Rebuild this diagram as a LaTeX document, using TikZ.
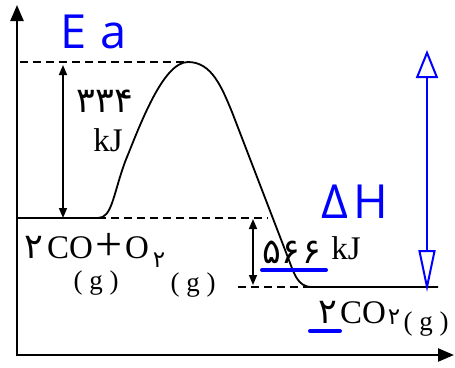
\documentclass[tikz,border=0pt]{standalone}
\usepackage{fontspec}
\setmainfont{Liberation Serif}
\setsansfont{Open Sans}
\newfontfamily\fa[Script=Arabic]{DejaVu Sans}
\usetikzlibrary{arrows.meta}

\tikzset{
  axis/.style={line width=2.4pt, {Triangle[length=16pt,width=13pt]}-{Triangle[length=16pt,width=13pt]}},
  level/.style={line width=1.8pt},
  guide/.style={line width=1.5pt, dash pattern=on 8pt off 5pt},
  gap/.style={line width=1.6pt, {Triangle[length=10pt,width=8pt]}-{Triangle[length=10pt,width=8pt]}},
  lbl/.style={inner sep=0pt, font=\fontsize{33}{35}\selectfont},
  num/.style={inner sep=0pt, font=\fa\fontsize{35}{37}\selectfont},
  sublbl/.style={inner sep=0pt, font=\fontsize{27}{29}\selectfont},
  subnum/.style={inner sep=0pt, font=\fa\fontsize{23}{25}\selectfont},
  pen/.style={draw=blue, line width=2pt, line cap=round, line join=round},
  pentext/.style={inner sep=0pt, text=blue, font=\sffamily\fontsize{47}{50}\selectfont},
}

\begin{document}
\begin{tikzpicture}[x=1pt,y=-1pt]
\useasboundingbox (0,0) rectangle (455,367);

% axes
\coordinate (ytop) at (17,5);
\coordinate (O) at (17,355);
\coordinate (xend) at (454,355);
\draw[axis] (ytop) -- (O) -- (xend);

% reaction path
\coordinate (r0) at (17,218);
\coordinate (r1) at (98,218);
\coordinate (peak) at (188,62);
\coordinate (p0) at (312,287);
\coordinate (p1) at (438,287);
\draw[level] (r0) -- (r1) .. controls (112,218) and (113,195) .. (125,162)
  .. controls (140,125) and (163,62) .. (peak)
  .. controls (212,62) and (222,88) .. (232,112) -- (287,255)
  .. controls (294,273) and (297,287) .. (p0) -- (p1);

% dashed guides
\coordinate (g0) at (20,62);
\coordinate (g1) at (268,218);
\coordinate (g2) at (238,287);
\draw[guide] (g0) -- (peak);
\draw[guide] (r1) -- (g1);
\draw[guide] (g2) -- (p0);

% energy gaps
\coordinate (ea0) at (63,218);
\coordinate (ea1) at (63,65);
\coordinate (dh0) at (253,219);
\coordinate (dh1) at (253,285);
\draw[gap] (ea0) -- (ea1);
\draw[gap] (dh0) -- (dh1);

\node[num] (eaval) at (105,101) {۳۳۴};
\node[lbl] (eaunit) at (108,140) {kJ};
\node[num] (dhval) at (292,252) {۵۶\hspace{3pt}۶};
\node[lbl] (dhunit) at (346,248) {kJ};

% species
\node[num] (reacco) at (34,247) {۲};
\node[lbl, anchor=base west] (reac) at (47,258) {CO\hspace{2pt}\raisebox{-2pt}{\fontsize{48}{48}\selectfont +}\hspace{3pt}O};
\node[subnum] (reacsub) at (159,260) {۲};
\node[sublbl] (reacg1) at (96,283) {( g )};
\node[sublbl] (reacg2) at (193,285) {( g )};
\node[num] (prodco) at (328,312) {۲};
\node[lbl, anchor=base west] (prod) at (340,323) {CO};
\node[subnum] (prodsub) at (394,317) {۲};
\node[sublbl] (prodg) at (426,324) {( g )};

% blue notes
\node[pentext] (eanote) at (94,32) {E\hspace{14pt}a};
\node[pentext] (dhnote) at (355,202) {Δ\hspace{5pt}H};
\coordinate (b0) at (427,50);
\coordinate (b1) at (427,292);
\draw[pen, {Triangle[open,length=28pt,width=22pt]}-{Triangle[open,length=42pt,width=17pt]}] (b0) -- (b1);
\coordinate (u0) at (262,270);
\coordinate (u1) at (326,270);
\coordinate (u2) at (310,331);
\coordinate (u3) at (340,331);
\draw[pen, line width=4pt] (u0) -- (u1);
\draw[pen, line width=4pt] (u2) -- (u3);
\end{tikzpicture}
\end{document}
